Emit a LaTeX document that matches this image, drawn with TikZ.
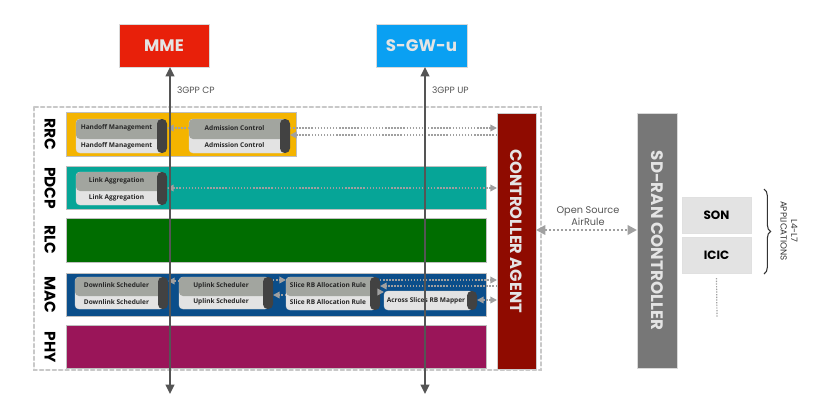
\documentclass[tikz,border=0pt]{standalone}
\usepackage{fontspec}
\setmainfont{Poppins}
\newfontfamily\boxfont{Open Sans}
\usetikzlibrary{arrows.meta,decorations.pathreplacing}
\definecolor{rrcY}{HTML}{F4B400}
\definecolor{pdcpT}{HTML}{06A597}
\definecolor{rlcG}{HTML}{006D00}
\definecolor{macB}{HTML}{0B4E8A}
\definecolor{phyM}{HTML}{9A1559}
\definecolor{agentR}{HTML}{8F0B00}
\definecolor{mmeR}{HTML}{E8200A}
\definecolor{sgwB}{HTML}{0AA0F2}
\definecolor{sdG}{HTML}{777777}
\definecolor{appG}{HTML}{E3E3E3}
\definecolor{topG}{HTML}{A2A59F}
\definecolor{lowG}{HTML}{E3E3E3}
\definecolor{barG}{HTML}{424242}
\definecolor{lineG}{HTML}{555555}
\definecolor{dotG}{HTML}{A0A0A0}
\definecolor{frameG}{HTML}{C8C8C8}
\definecolor{txtL}{HTML}{E4E4E4}
\newcommand\rbox[7]{\node[#1,minimum width={((#5)-(#3))*0.75pt},minimum height={((#6)-(#4))*0.75pt}] (#2) at ({((#3)+(#5))/2},{((#4)+(#6))/2}) {#7};}
\newcommand\twobox[7]{%
  \rbox{lowpart}{#1}{#2}{#3}{#4+6}{#5}{}%
  \rbox{toppart}{#1top}{#2}{#3}{#4+6}{#6+2}{}%
  \node[boxtext] (#1ta) at ({((#2)+(#4))/2},{((#3)+(#6))/2}) {#7};
  \node[boxtext] (#1tb) at ({((#2)+(#4))/2},{((#6)+(#5))/2+0.5}) {#7};
  \rbox{barpart}{#1bar}{#4}{#3}{#4+10}{#5}{}%
}
\begin{document}
\begin{tikzpicture}[x=0.75pt,y=-0.75pt,
  every node/.style={inner sep=0pt,outer sep=0pt},
  band/.style={draw=black!25,line width=0.4pt},
  lowpart/.style={fill=lowG,draw=black!15,line width=0.3pt,rounded corners=3pt},
  toppart/.style={fill=topG,rounded corners=3pt},
  barpart/.style={fill=barG,rounded corners=3.5pt},
  boxtext/.style={font=\boxfont\bfseries\fontsize{4.9}{5.5}\selectfont,text=black!85},
  layer/.style={rotate=-90,font=\bfseries\fontsize{11.5}{12}\selectfont},
  ctl/.style={draw=dotG,line width=1.1pt,dash pattern=on 1.1pt off 1.2pt,
    -{Triangle[length=5pt,width=5pt,fill=dotG]}},
  ctlb/.style={ctl,{Triangle[length=5pt,width=5pt,fill=dotG]}-{Triangle[length=5pt,width=5pt,fill=dotG]}},
  gp/.style={draw=lineG,line width=1.5pt,{Triangle[length=7pt,width=6.5pt]}-{Triangle[length=7pt,width=6.5pt]}},
  ]
\useasboundingbox (0,0) rectangle (840,405);

% eNB frame
\draw[draw=frameG,line width=1.6pt,dash pattern=on 2.6pt off 2.2pt,line cap=round] (34,107) rectangle (541,370);

% layer bands
\rbox{band,fill=rrcY}{rrc}{66}{112}{296}{156}{}
\rbox{band,fill=pdcpT}{pdcp}{66}{166}{486}{209}{}
\rbox{band,fill=rlcG}{rlc}{66}{218}{486}{262}{}
\rbox{band,fill=macB}{mac}{66}{273}{486}{316}{}
\rbox{band,fill=phyM}{phy}{66}{325}{486}{368}{}

\node[layer] (lrrc) at (50,134) {RRC};
\node[layer] (lpdcp) at (50,188) {PDCP};
\node[layer] (lrlc) at (50,240) {RLC};
\node[layer] (lmac) at (50,295) {MAC};
\node[layer] (lphy) at (50,347) {PHY};

% controller agent
\rbox{fill=agentR,draw=black!20,line width=0.4pt}{agent}{497}{113}{536}{369}{}
\node[rotate=-90,text=txtL,font=\bfseries\fontsize{12.2}{13}\selectfont] (agentt) at (516.5,231) {CONTROLLER AGENT};

% MME and S-GW-u
\rbox{fill=mmeR,draw=black!15,line width=0.3pt,text=txtL,font=\bfseries\fontsize{12.5}{13}\selectfont}{mme}{119}{24}{209}{67}{MME}
\rbox{fill=sgwB,draw=black!15,line width=0.3pt,text=txtL,font=\bfseries\fontsize{12.5}{13}\selectfont}{sgw}{376}{24}{467}{67}{S-GW-u}

% function boxes
\twobox{ho}{76}{119}{157}{153}{137}{Handoff Management}
\twobox{ac}{189}{119}{280}{153}{137}{Admission Control}
\twobox{la}{76}{172}{157}{205}{189}{Link Aggregation}
\twobox{dl}{75}{277}{158}{309}{294}{Downlink Scheduler}
\twobox{ul}{179}{277}{263}{309}{294}{Uplink Scheduler}
\twobox{sr}{286}{277}{370}{310}{294}{Slice RB Allocation Rule}
\rbox{lowpart}{ar}{384}{291}{473}{310}{}
\node[boxtext] (art) at (426,300.5) {Across Slices RB Mapper};
\rbox{barpart}{arbar}{467}{291}{477}{310}{}

% arrows between boxes and to the agent
\draw[ctl] (ac.west |- 0,128) -- (hobar.east |- 0,128);
\draw[ctl] (acbar.east |- 0,128) -- (agent.west |- 0,128);
\draw[ctl] (agent.west |- 0,135) -- (acbar.east |- 0,135);
\draw[ctlb] (labar.east |- 0,188) -- (agent.west |- 0,188);
\draw[ctl] (ul.west |- 0,281) -- (dlbar.east |- 0,281);
\draw[ctl] (ulbar.east |- 0,280) -- (sr.west |- 0,280);
\draw[ctl] (srbar.east |- 0,280) -- (agent.west |- 0,280);
\draw[ctl] (agent.west |- 0,286) -- (srbar.east |- 0,286);
\draw[ctl] (sr.west |- 0,295) -- (ulbar.east |- 0,295);
\draw[ctl] (srbar.east |- 0,292) -- (ar.west |- 0,292);
\draw[ctlb] (arbar.east |- 0,300) -- (agent.west |- 0,300);

% 3GPP lines
\coordinate (cpbot) at (170,394);
\coordinate (upbot) at (425,394);
\draw[gp] (cpbot) -- (cpbot |- mme.south);
\draw[gp] (upbot) -- (upbot |- sgw.south);
\node[anchor=west,text=lineG,font=\fontsize{6.8}{7}\selectfont] (cpl) at (177,90) {3GPP CP};
\node[anchor=west,text=lineG,font=\fontsize{6.8}{7}\selectfont] (upl) at (432,90) {3GPP UP};

% SD-RAN controller
\rbox{fill=sdG,draw=black!15,line width=0.4pt}{sdran}{637}{113}{677}{368}{}
\node[rotate=-90,text=txtL,font=\bfseries\fontsize{12.5}{13}\selectfont] (sdrant) at (sdran.center) {SD-RAN CONTROLLER};

\draw[draw=dotG,line width=1.9pt,dash pattern=on 1.6pt off 1.4pt,
  {Triangle[length=7pt,width=7pt,fill=dotG]}-{Triangle[length=7pt,width=7pt,fill=dotG]}]
  (agent.east |- 0,230) -- (sdran.west |- 0,230);
\node[align=center,text=lineG,font=\fontsize{7.3}{9.5}\selectfont] (osl) at (588,216) {Open Source\\AirRule};

% applications
\rbox{fill=appG,draw=black!12,line width=0.4pt,font=\bfseries\fontsize{9}{10}\selectfont}{son}{682}{197}{751}{233}{SON}
\rbox{fill=appG,draw=black!12,line width=0.4pt,font=\bfseries\fontsize{9}{10}\selectfont}{icic}{682}{237}{751}{273}{ICIC}
\coordinate (more) at (717,317);
\draw[draw=dotG,line width=0.9pt,dash pattern=on 1pt off 1pt] (icic.south |- 0,278) -- (more);
\coordinate (brt) at (764,189);
\coordinate (brb) at (764,274);
\draw[draw=black!80,line width=0.8pt,decorate,decoration={brace,amplitude=5pt}] (brt) -- (brb);
\node[rotate=-90,align=center,text=black!80,font=\fontsize{6.6}{8}\selectfont] (l47) at (789,231) {L4-L7\\APPLICATIONS};
\end{tikzpicture}
\end{document}
